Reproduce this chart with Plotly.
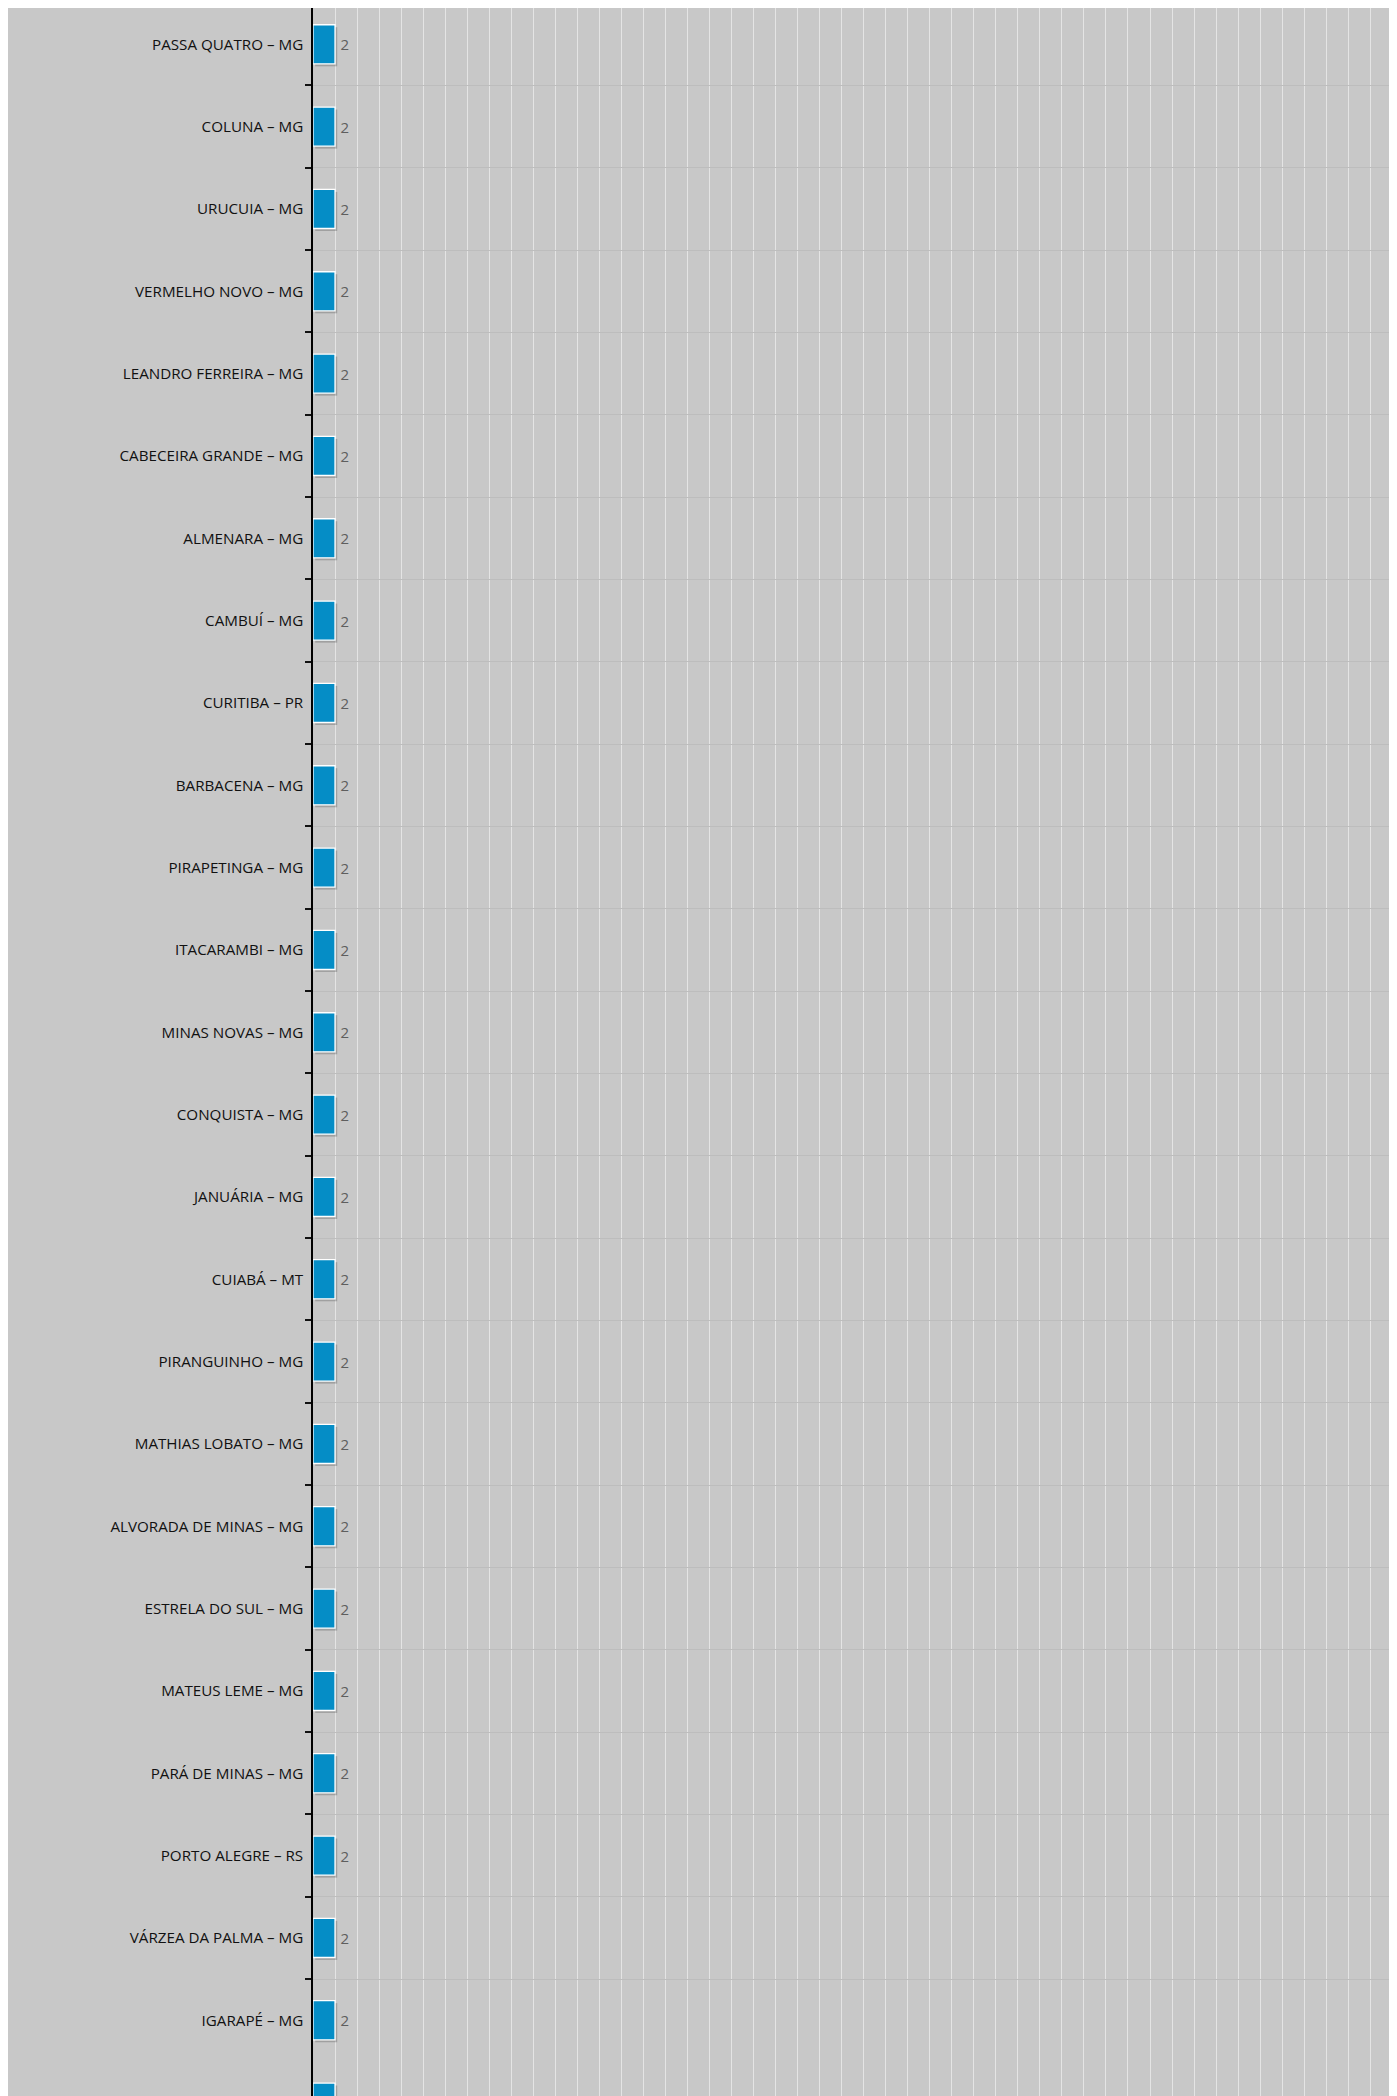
import plotly.graph_objects as go

# ---- data ----
cities = [
    "PASSA QUATRO – MG", "COLUNA – MG", "URUCUIA – MG", "VERMELHO NOVO – MG",
    "LEANDRO FERREIRA – MG", "CABECEIRA GRANDE – MG", "ALMENARA – MG", "CAMBUÍ – MG",
    "CURITIBA – PR", "BARBACENA – MG", "PIRAPETINGA – MG", "ITACARAMBI – MG",
    "MINAS NOVAS – MG", "CONQUISTA – MG", "JANUÁRIA – MG", "CUIABÁ – MT",
    "PIRANGUINHO – MG", "MATHIAS LOBATO – MG", "ALVORADA DE MINAS – MG",
    "ESTRELA DO SUL – MG", "MATEUS LEME – MG", "PARÁ DE MINAS – MG",
    "PORTO ALEGRE – RS", "VÁRZEA DA PALMA – MG", "IGARAPÉ – MG",
    " ",  # next row, cut off at the bottom of the view (label not visible)
]
values = [2] * 26

BAR_COLOR = "#058dc6"
BG = "#c8c8c8"
BAR_W = 0.475

fig = go.Figure()

# soft drop shadow under each bar
fig.add_trace(go.Bar(
    y=cities, x=values, orientation="h",
    base=0.2, width=BAR_W, offset=-BAR_W / 2 + 0.03,
    marker=dict(color="rgba(0,0,0,0.2)", line=dict(width=0)),
    hoverinfo="skip", showlegend=False,
))

# main bars
fig.add_trace(go.Bar(
    y=cities, x=values, orientation="h",
    width=BAR_W,
    marker=dict(color=BAR_COLOR, line=dict(color="#ffffff", width=1.3)),
    texttemplate="\u2009%{x}", textposition="outside", cliponaxis=False,
    constraintext="none",
    textfont=dict(family="Open Sans, sans-serif", size=15, color="#5e5e5e"),
    showlegend=False,
))

fig.update_layout(
    width=1381, height=2088,
    margin=dict(l=305, r=0, t=0, b=0),
    paper_bgcolor=BG, plot_bgcolor=BG,
    barmode="overlay", bargap=0.5,
    font=dict(family="Open Sans, sans-serif", size=15, color="#111111"),
)

fig.update_xaxes(
    range=[0, 97.7], dtick=2, tick0=0,
    showgrid=True, gridcolor="#e4e4e4", gridwidth=1,
    zeroline=False, showticklabels=False, ticks="",
    showline=False,
)

fig.update_yaxes(
    type="category", categoryorder="array", categoryarray=cities,
    range=[24.92, -0.441],
    tickson="boundaries", ticks="outside", ticklen=6, tickwidth=1.5, tickcolor="#111111",
    showgrid=True, gridcolor="#bdbdbd", gridwidth=1,
    showline=True, linecolor="#000000", linewidth=1.5,
    ticklabelstandoff=5,
    tickfont=dict(family="Open Sans, sans-serif", size=15.2, color="#111111"),
)

fig.write_html("out.html")
